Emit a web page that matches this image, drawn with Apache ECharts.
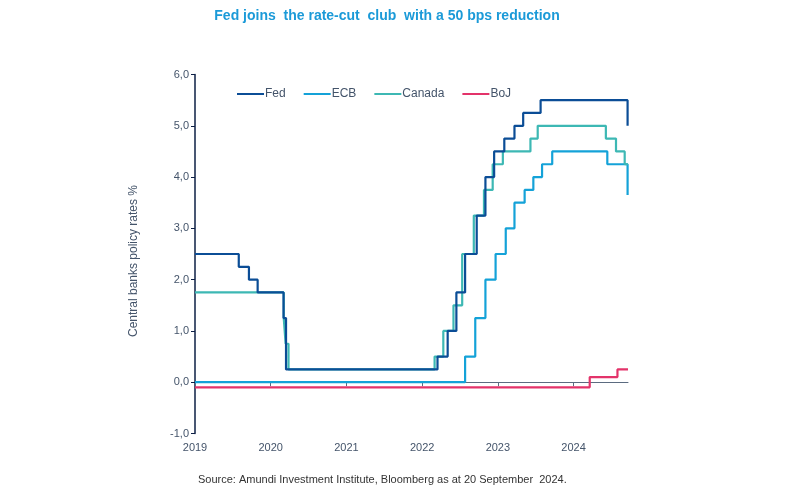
<!DOCTYPE html>
<html><head><meta charset="utf-8">
<script src="https://cdn.jsdelivr.net/npm/echarts@6/dist/echarts.min.js"></script>
<style>html,body{margin:0;padding:0;background:#fff}#c{width:800px;height:500px}</style>
</head><body><div id="c"></div>
<script>
// Policy rate changes: [date, new rate]
var fedDates = ['2019-01-01','2019-07-31','2019-09-18','2019-10-30','2020-03-03','2020-03-15','2022-03-16','2022-05-04','2022-06-15','2022-07-27','2022-09-21','2022-11-02','2022-12-14','2023-02-01','2023-03-22','2023-05-03','2023-07-26','2024-09-18','2024-09-20'];
var fedRates = [2.5,2.25,2.0,1.75,1.25,0.25,0.5,1.0,1.75,2.5,3.25,4.0,4.5,4.75,5.0,5.25,5.5,5.0,5.0];

var ecbDates = ['2019-01-01','2022-07-27','2022-09-14','2022-11-02','2022-12-21','2023-02-08','2023-03-22','2023-05-10','2023-06-21','2023-08-02','2023-09-20','2024-06-12','2024-09-18','2024-09-20'];
var ecbRates = [0.0,0.5,1.25,2.0,2.5,3.0,3.5,3.75,4.0,4.25,4.5,4.25,3.65,3.65];

var canDates = ['2019-01-01','2020-03-04','2020-03-13','2020-03-27','2022-03-02','2022-04-13','2022-06-01','2022-07-13','2022-09-07','2022-10-26','2022-12-07','2023-01-25','2023-06-07','2023-07-12','2024-06-05','2024-07-24','2024-09-04','2024-09-20'];
var canRates = [1.75,1.25,0.75,0.25,0.5,1.0,1.5,2.5,3.25,3.75,4.25,4.5,4.75,5.0,4.75,4.5,4.25,4.25];

var bojDates = ['2019-01-01','2024-03-19','2024-07-31','2024-09-20'];
var bojRates = [-0.1,0.1,0.25,0.25];

var seriesNames = ['Fed','ECB','Canada','BoJ'];
var yearTicks = [2019,2020,2021,2022,2023,2024];

function toYear(s){
  var p = s.split('-').map(Number);
  var y = p[0], start = Date.UTC(y,0,1), end = Date.UTC(y+1,0,1);
  return y + (Date.UTC(y,p[1]-1,p[2]) - start)/(end-start);
}
function pairs(d, r){ return d.map(function(x,i){ return [toYear(x), r[i]]; }); }

var colors = ['#0b4d96','#14a2d8','#3db8b4','#e3336a'];
var data = [pairs(fedDates,fedRates), pairs(ecbDates,ecbRates), pairs(canDates,canRates), pairs(bojDates,bojRates)];
var order = [1,2,3,0]; // draw Fed on top
var xMax = toYear('2024-09-20');

var chart = echarts.init(document.getElementById('c'), null, {renderer:'canvas'});
chart.setOption({
  animation:false,
  color: colors,
  title:{
    text:'Fed joins  the rate-cut  club  with a 50 bps reduction',
    left:382, textAlign:'center', top:4,
    textStyle:{color:'#1b9ad8', fontFamily:'Liberation Sans, Arial', fontSize:14, fontWeight:'bold'}
  },
  legend:{
    data: seriesNames, left:232, top:83, itemWidth:27, itemHeight:2, itemGap:18,
    icon:'rect',
    textStyle:{color:'#44546a', fontFamily:'Liberation Sans, Arial', fontSize:12, padding:[0,0,0,-4]}
  },
  grid:{left:195, right:172, top:74.5, bottom:66.5, containLabel:false},
  xAxis:{
    type:'value', min:2019, max:xMax,
    axisLine:{onZero:true, lineStyle:{color:'#5b6b80', width:1}},
    axisTick:{show:true, length:4, lineStyle:{color:'#5b6b80'}, customValues: yearTicks},
    axisLabel:{margin:9, color:'#44546a', fontFamily:'Liberation Sans, Arial', fontSize:11,
      customValues: yearTicks, formatter:function(v){return String(Math.round(v));}},
    splitLine:{show:false}
  },
  yAxis:{
    type:'value', min:-1, max:6, interval:1,
    axisLine:{show:true, onZero:false, lineStyle:{color:'#0d1f45', width:1.5}},
    axisTick:{show:true, length:4, lineStyle:{color:'#0d1f45'}},
    axisLabel:{color:'#44546a', fontFamily:'Liberation Sans, Arial', fontSize:11, margin:6,
      formatter:function(v){return v.toFixed(1).replace('.',',');}},
    splitLine:{show:false}
  },
  graphic:[
    {type:'text', x:134, y:261, rotation:Math.PI/2, style:{text:'Central banks policy rates %', fill:'#44546a',
      font:'12px "Liberation Sans", Arial', textAlign:'center', textVerticalAlign:'middle'}},
    {type:'text', left:198, top:474, style:{text:'Source: Amundi Investment Institute, Bloomberg as at 20 September  2024.', fill:'#333',
      font:'11px "Liberation Sans", Arial'}}
  ],
  series: order.map(function(i){
    return {name:seriesNames[i], type:'line', step:'end', data:data[i], showSymbol:false, symbol:'none',
      lineStyle:{width:2.2, color:colors[i]}, itemStyle:{color:colors[i]}, z: i===0?5:3};
  })
});
</script></body></html>
